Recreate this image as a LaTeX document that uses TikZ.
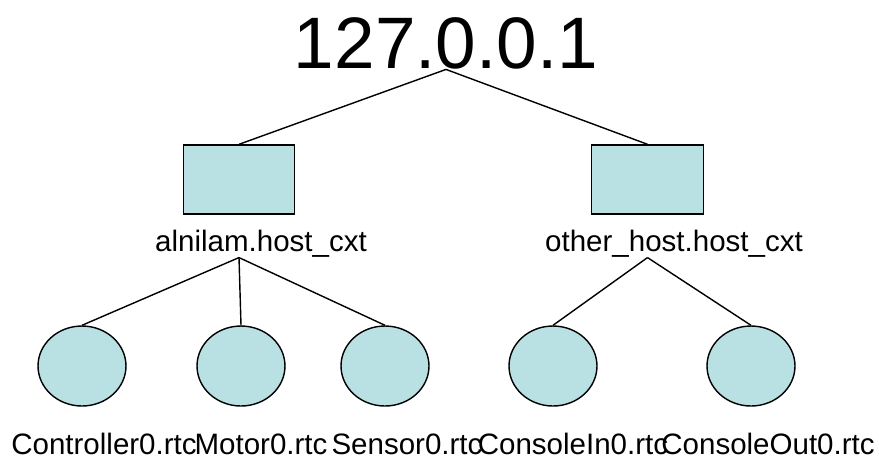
\documentclass[tikz,border=0pt]{standalone}
\usepackage{fontspec}
\setmainfont{Liberation Sans}
\usetikzlibrary{shapes.geometric}
\definecolor{cxtblue}{RGB}{185,224,227}
\def\cxtnode{\node[cxt]}
\def\rtcnode{\node[rtc]}

\begin{document}
\begin{tikzpicture}[x=0.02cm,y=-0.02cm,line width=0.8pt,
  cxt/.style={rectangle,draw=black,fill=cxtblue,minimum width=2.23cm,minimum height=1.38cm,inner sep=0pt},
  rtc/.style={ellipse,draw=black,fill=cxtblue,minimum width=1.76cm,minimum height=1.6cm,inner sep=0pt},
  lbl/.style={anchor=base,inner sep=0pt,font=\fontsize{16.8}{20}\selectfont}]
\useasboundingbox (0,0) rectangle (879,458);
\node[anchor=base,inner sep=0pt,font=\fontsize{41.5}{48}\selectfont] (ns) at (446,68) {127.0.0.1};

% host contexts under the name server
\cxtnode (host_a) at (239,179.5) {};
\cxtnode (host_b) at (647.5,179.5) {};
\node[lbl] (host_a_name) at (261,251) {alnilam.host\_cxt};
\node[lbl] (host_b_name) at (674,251) {other\_host.host\_cxt};
\draw (ns.south) -- (host_a.north);
\draw (ns.south) -- (host_b.north);

% components, the lines leave just below the host names
\coordinate (fork_a) at (host_a |- host_a_name.south);
\coordinate (fork_b) at (host_b |- host_b_name.south);
\rtcnode (ctrl) at (82,366) {};
\rtcnode (motor) at (241,366) {};
\rtcnode (sensor) at (385,366) {};
\rtcnode (con_in) at (553,366) {};
\rtcnode (con_out) at (751,366) {};
\draw (fork_a) -- (ctrl.north);
\draw (fork_a) -- (motor.north);
\draw (fork_a) -- (sensor.north);
\draw (fork_b) -- (con_in.north);
\draw (fork_b) -- (con_out.north);

\node[lbl] (ctrl_name) at (104,454) {Controller0.rtc};
\node[lbl] (motor_name) at (261,454) {Motor0.rtc};
\node[lbl] (sensor_name) at (407,454) {Sensor0.rtc};
\node[lbl] (con_in_name) at (573,454) {ConsoleIn0.rtc};
\node[lbl] (con_out_name) at (768,454) {ConsoleOut0.rtc};
\end{tikzpicture}
\end{document}
